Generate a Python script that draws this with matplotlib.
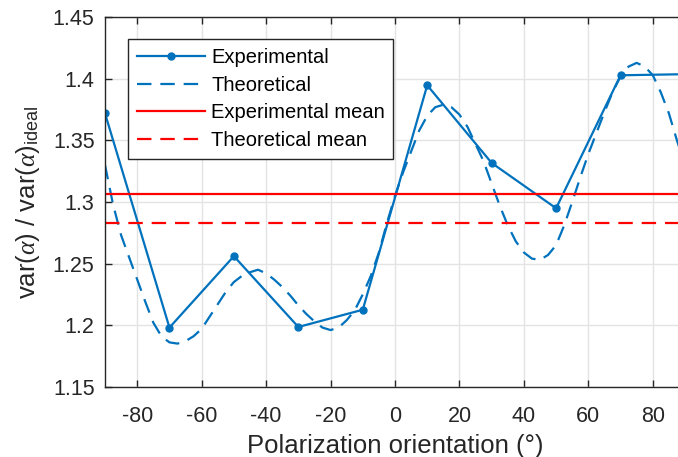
import numpy as np
import matplotlib.pyplot as plt

plt.rcParams['font.family'] = ['Liberation Sans', 'DejaVu Sans']
plt.rcParams['mathtext.fontset'] = 'custom'
plt.rcParams['mathtext.rm'] = 'Liberation Sans'
plt.rcParams['mathtext.it'] = 'Liberation Serif:italic'
plt.rcParams['axes.unicode_minus'] = False

# measured points
exp_angle = [-90, -70, -50, -30, -10, 10, 30, 50, 70, 90]
exp_value = [1.372, 1.198, 1.256, 1.1985, 1.2125, 1.3948, 1.3317, 1.2949, 1.4029, 1.4038]

theo_angle = [-90, -87.5, -85, -82.5, -80, -77.5, -75, -72.5, -70, -67.5, -65, -62.5,
              -60, -57.5, -55, -52.5, -50, -47.5, -45, -42.5, -40, -37.5, -35, -32.5,
              -30, -27.5, -25, -22.5, -20, -17.5, -15, -12.5, -10, -7.5, -5, -2.5,
              0, 2.5, 5, 7.5, 10, 12.5, 15, 17.5, 20, 22.5, 25, 27.5,
              30, 32.5, 35, 37.5, 40, 42.5, 45, 47.5, 50, 52.5, 55, 57.5,
              60, 62.5, 65, 67.5, 70, 72.5, 75, 77.5, 80, 82.5, 85, 87.5, 90]
theo_value = [1.330, 1.298, 1.273, 1.255, 1.237, 1.219, 1.202, 1.191, 1.186, 1.185, 1.187, 1.191,
              1.197, 1.207, 1.217, 1.227, 1.235, 1.240, 1.243, 1.245, 1.242, 1.237, 1.231, 1.224,
              1.216, 1.209, 1.203, 1.198, 1.196, 1.198, 1.204, 1.212, 1.225, 1.240, 1.259, 1.283,
              1.305, 1.324, 1.341, 1.358, 1.370, 1.377, 1.379, 1.377, 1.371, 1.361, 1.347, 1.333,
              1.315, 1.297, 1.281, 1.268, 1.259, 1.254, 1.253, 1.257, 1.265, 1.281, 1.300, 1.320,
              1.339, 1.356, 1.373, 1.389, 1.402, 1.410, 1.413, 1.410, 1.403, 1.389, 1.372, 1.350, 1.330]

exp_mean = 1.3063
theo_mean = 1.2827

blue = '#0072BD'
red = '#FF0000'

fig = plt.figure(figsize=(6.78, 4.57), dpi=100)
ax = fig.add_axes([105 / 678, 70.3 / 457, 580 / 678, 369.4 / 457])

ax.plot(exp_angle, exp_value, '-o', color=blue, lw=1.6, ms=5, label='Experimental')
ax.plot(theo_angle, theo_value, '--', color=blue, lw=1.6, dashes=(6.5, 4), label='Theoretical')
ax.axhline(exp_mean, color=red, lw=1.6, label='Experimental mean')
ax.axhline(theo_mean, color=red, lw=1.6, ls='--', dashes=(6.5, 4), label='Theoretical mean')

ax.set_xlim(-90, 90)
ax.set_ylim(1.15, 1.45)
ax.set_xticks(np.arange(-80, 81, 20))
ax.set_yticks([1.15, 1.2, 1.25, 1.3, 1.35, 1.4, 1.45])
ax.set_yticklabels(['1.15', '1.2', '1.25', '1.3', '1.35', '1.4', '1.45'])
ax.grid(True, color='#E3E3E3', lw=1)
ax.set_axisbelow(True)
ax.tick_params(direction='in', length=5, width=1, colors='#262626', labelsize=15.5,
               top=True, right=True)
ax.tick_params(axis='x', pad=14)
ax.tick_params(axis='y', pad=7.5)
for s in ax.spines.values():
    s.set_color('#262626')
    s.set_linewidth(1)

ax.set_xlabel('Polarization orientation (°)', fontsize=18.5, color='#262626', labelpad=5)
ax.set_ylabel(r'var($\alpha$) / var($\alpha)_{\rm ideal}$', fontsize=18.5, color='#262626', labelpad=7.5)

leg = ax.legend(loc='upper left', bbox_to_anchor=(0.040, 0.9405), fontsize=14.5,
                fancybox=False, framealpha=1, edgecolor='#262626', borderaxespad=0,
                handlelength=3.4, borderpad=0.42, labelspacing=0.44, handletextpad=0.3)
leg.get_frame().set_linewidth(1)

fig.savefig('out.png', dpi=100)
